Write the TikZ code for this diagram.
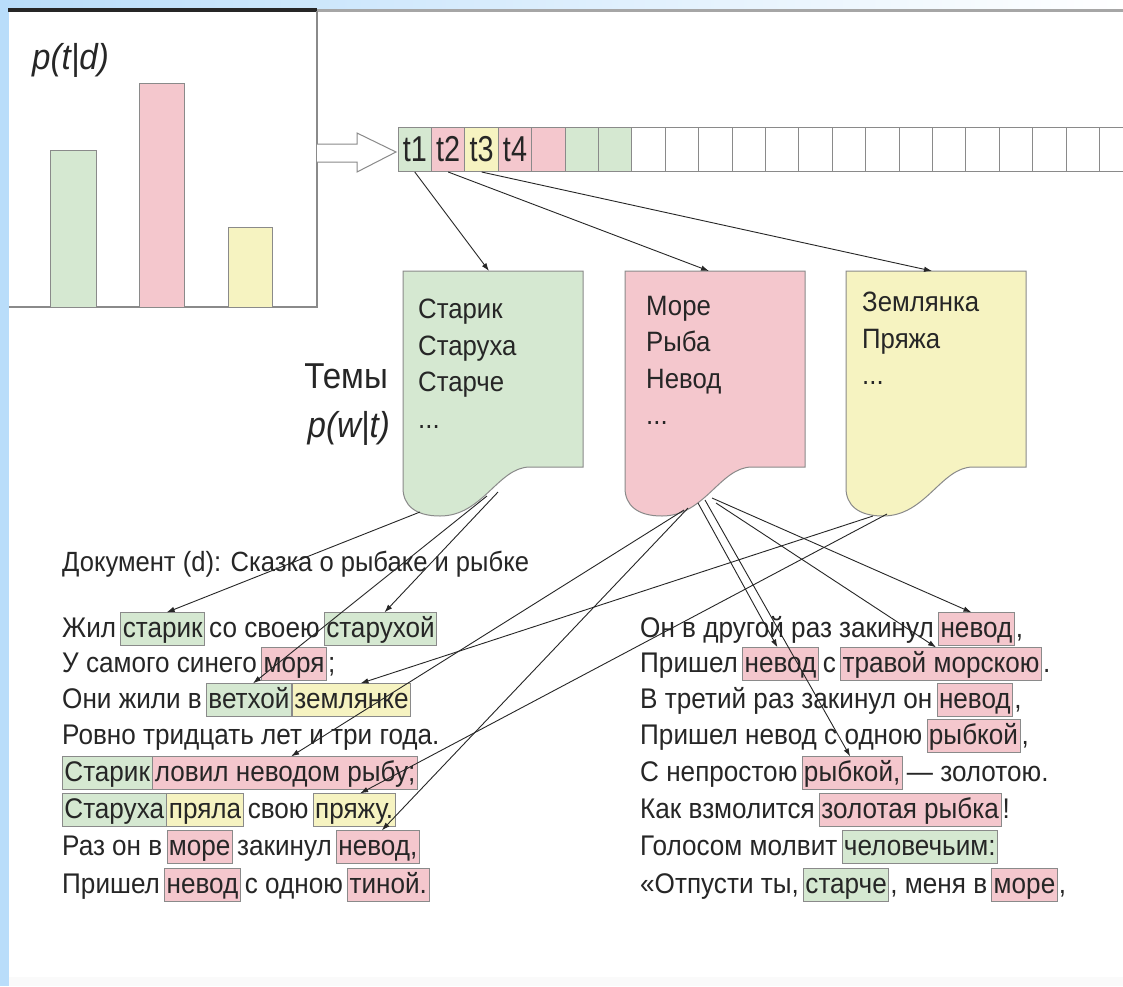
\documentclass[tikz,border=0pt]{standalone}
\usepackage{fontspec}
\setmainfont[FakeStretch=0.92]{Liberation Sans}
\newfontfamily\cellfont[FakeStretch=0.8]{Liberation Sans}
\usetikzlibrary{positioning,arrows.meta}

\definecolor{tgreen}{HTML}{D5E8D1}
\definecolor{tpink}{HTML}{F4C7CD}
\definecolor{tyellow}{HTML}{F6F3C1}
\definecolor{slideblue}{HTML}{B9DDFA}
\definecolor{edgegray}{HTML}{8A8A8A}
\definecolor{ink}{HTML}{262626}

\newcommand{\docsize}{\fontsize{28.4}{33}\selectfont}
\newcommand{\topicsize}{\fontsize{28}{36.5}\selectfont}

\tikzset{
  cell/.style={draw=edgegray, line width=1pt, minimum width=33.4pt, minimum height=44pt,
    inner sep=0pt, anchor=north west, font=\cellfont\fontsize{36}{36}\selectfont, text=ink},
  bar/.style={draw=edgegray, line width=1pt},
  topic/.style={fill=#1, draw=edgegray, line width=1pt},
  topicword/.style={inner sep=0pt, anchor=north west, align=left, font=\topicsize, text=ink},
  word/.style={inner sep=0pt, font=\docsize, text=ink},
  hl/.style={word, fill=#1, draw=edgegray, line width=0.8pt, inner xsep=2pt, inner ysep=1.25pt,
    text height=23pt, text depth=7.5pt},
  conn/.style={draw=ink, line width=0.9pt, -{Latex[length=8pt,width=5.5pt]}},
}

\begin{document}
\begin{tikzpicture}[x=1pt,y=-1pt]
  \useasboundingbox (0,0) rectangle (1123,986);
  \clip (0,0) rectangle (1123,986);

  % slide frame
  \fill[white] (0,0) rectangle (1123,986);
  \fill[black!2] (0,977) rectangle (1123,986);
  \shade[left color=slideblue, right color=white] (0,0) rectangle (1123,8);
  \fill[slideblue] (0,0) rectangle (9,986);
  \draw[ink, line width=3.5pt] (8,10) -- (317,10);
  \draw[gray!70, line width=3pt] (317,10) -- (1123,10);

  % p(t|d) chart
  \draw[edgegray, line width=1.2pt] (317,11) -- (317,307) -- (9,307);
  \node[font=\fontsize{36}{36}\selectfont\itshape, text=ink, anchor=west, inner sep=0pt] (ptd) at (32,60) {p(t|d)};
  \filldraw[bar, fill=tgreen] (50,150) rectangle (96,307);
  \filldraw[bar, fill=tpink] (139,83) rectangle (184,307);
  \filldraw[bar, fill=tyellow] (228,227) rectangle (272,307);

  \filldraw[fill=white, draw=edgegray, line width=1pt] (317,144) -- (357,144) -- (357,133)
    -- (396,152) -- (357,172) -- (357,162) -- (317,162);

  % topic cells
  \foreach \i/\col in {1/tgreen, 2/tpink, 3/tyellow, 4/tpink}
    \node[cell, fill=\col] (c\i) at ({397.6+(\i-1)*33.4},127) {t\i};
  \foreach \i/\col in {5/tpink, 6/tgreen, 7/tgreen}
    \node[cell, fill=\col] (c\i) at ({397.6+(\i-1)*33.4},127) {};
  \foreach \i in {8,...,22}
    \node[cell, fill=white] (c\i) at ({397.6+(\i-1)*33.4},127) {};

  % topics
  \foreach \L/\col in {403/tgreen, 625/tpink, 846/tyellow}
    \filldraw[topic=\col] (\L,271) -- (\L+180,271) -- (\L+180,467) -- (\L+127,467)
      .. controls (\L+95,467) and (\L+80,516) .. (\L+37,516)
      .. controls (\L+12,516) and (\L,505) .. (\L,488) -- cycle;

  \node[topicword] (tw-green) at (418,299) {Старик\\Старуха\\Старче\\...};
  \node[topicword] (tw-pink) at (646,296) {Море\\Рыба\\Невод\\...};
  \node[topicword] (tw-yellow) at (862,292) {Землянка\\Пряжа\\...};

  \node[font=\fontsize{36}{36}\selectfont, text=ink, anchor=base east, inner sep=0pt] (temy) at (388,388) {Темы};
  \node[font=\fontsize{36}{36}\selectfont\itshape, text=ink, anchor=base east, inner sep=0pt] (pwt) at (390,437) {p(w|t)};

  \coordinate (in-green) at (489,271);
  \coordinate (in-pink) at (709,271);
  \coordinate (in-yellow) at (932,271);
  \draw[conn] (c1.south) -- (in-green);
  \draw[conn] (c2.south) -- (in-pink);
  \draw[conn] (c3.south) -- (in-yellow);

  % document, left column
  \node[word, font=\fontsize{27.8}{33}\selectfont, anchor=base west] (title) at (62,571) {Документ (d): Сказка о рыбаке и рыбке};

  \node[word, anchor=base west] (a1) at (62,637) {Жил};
  \node[hl=tgreen, base right=4pt of a1] (starik) {старик};
  \node[word, base right=4pt of starik] (a1b) {со своею};
  \node[hl=tgreen, base right=4pt of a1b] (staruhoj) {старухой};

  \node[word, anchor=base west] (a2) at (62,672) {У самого синего};
  \node[hl=tpink, base right=4pt of a2] (morja) {моря};
  \node[word, base right=1pt of morja] (a2b) {;};

  \node[word, anchor=base west] (a3) at (62,708) {Они жили в};
  \node[hl=tgreen, base right=4pt of a3] (vethoj) {ветхой};
  \node[hl=tyellow, base right=0pt of vethoj] (zemljanke) {землянке};

  \node[word, anchor=base west] (a4) at (62,744) {Ровно тридцать лет и три года.};

  \node[hl=tgreen, anchor=base west] (starik2) at (62,781) {Старик};
  \node[hl=tpink, base right=0pt of starik2] (lovil) {ловил неводом рыбу;};

  \node[hl=tgreen, anchor=base west] (staruha) at (62,818) {Старуха};
  \node[hl=tyellow, base right=0pt of staruha] (prjala) {пряла};
  \node[word, base right=4pt of prjala] (a6) {свою};
  \node[hl=tyellow, base right=4pt of a6] (prjazhu) {пряжу.};

  \node[word, anchor=base west] (a7) at (62,855) {Раз он в};
  \node[hl=tpink, base right=4pt of a7] (more) {море};
  \node[word, base right=4pt of more] (a7b) {закинул};
  \node[hl=tpink, base right=4pt of a7b] (nevod7) {невод,};

  \node[word, anchor=base west] (a8) at (62,893) {Пришел};
  \node[hl=tpink, base right=4pt of a8] (nevod8) {невод};
  \node[word, base right=4pt of nevod8] (a8b) {с одною};
  \node[hl=tpink, base right=4pt of a8b] (tinoj) {тиной.};

  % document, right column
  \node[word, anchor=base west] (b1) at (640,637) {Он в другой раз закинул};
  \node[hl=tpink, base right=4pt of b1] (nevodR1) {невод};
  \node[word, base right=1pt of nevodR1] (b1b) {,};

  \node[word, anchor=base west] (b2) at (640,672) {Пришел};
  \node[hl=tpink, base right=4pt of b2] (nevodR2) {невод};
  \node[word, base right=4pt of nevodR2] (b2b) {с};
  \node[hl=tpink, base right=4pt of b2b] (travoj) {травой морскою};
  \node[word, base right=1pt of travoj] (b2c) {.};

  \node[word, anchor=base west] (b3) at (640,708) {В третий раз закинул он};
  \node[hl=tpink, base right=4pt of b3] (nevodR3) {невод};
  \node[word, base right=1pt of nevodR3] (b3b) {,};

  \node[word, anchor=base west] (b4) at (640,744) {Пришел невод с одною};
  \node[hl=tpink, base right=4pt of b4] (rybkoj4) {рыбкой};
  \node[word, base right=1pt of rybkoj4] (b4b) {,};

  \node[word, anchor=base west] (b5) at (640,781) {С непростою};
  \node[hl=tpink, base right=4pt of b5] (rybkoj5) {рыбкой,};
  \node[word, base right=4pt of rybkoj5] (b5b) {— золотою.};

  \node[word, anchor=base west] (b6) at (640,818) {Как взмолится};
  \node[hl=tpink, base right=4pt of b6] (zolotaja) {золотая рыбка};
  \node[word, base right=1pt of zolotaja] (b6b) {!};

  \node[word, anchor=base west] (b7) at (640,855) {Голосом молвит};
  \node[hl=tgreen, base right=4pt of b7] (chelovechjim) {человечьим:};

  \node[word, anchor=base west] (b8) at (640,893) {«Отпусти ты,};
  \node[hl=tgreen, base right=4pt of b8] (starche) {старче};
  \node[word, base right=1pt of starche] (b8b) {, меня в};
  \node[hl=tpink, base right=4pt of b8b] (moreR) {море};
  \node[word, base right=1pt of moreR] (b8c) {,};

  % topic -> word links
  \coordinate (g-out1) at (420,512);
  \coordinate (g-out2) at (498,492);
  \coordinate (g-out3) at (487,496);
  \coordinate (p-out1) at (684,510);
  \coordinate (p-out2) at (688,508);
  \coordinate (p-out3) at (698,503);
  \coordinate (p-out4) at (705,500);
  \coordinate (p-out5) at (712,498);
  \coordinate (p-out6) at (716,503);
  \coordinate (y-out1) at (873,516);
  \coordinate (y-out2) at (887,514);

  \draw[conn] (g-out1) -- ([xshift=4pt]starik.north);
  \draw[conn] (g-out2) -- ([xshift=4pt]staruhoj.north);
  \draw[conn] (g-out3) -- ([xshift=4pt]vethoj.north);
  \draw[conn] (y-out1) -- ([xshift=9pt]zemljanke.north);
  \draw[conn] (p-out1) -- ([xshift=6pt]lovil.north);
  \draw[conn] (y-out2) -- ([xshift=6pt]prjazhu.north);
  \draw[conn] (p-out2) -- ([xshift=4pt]nevod7.north);
  \draw[conn] (p-out5) -- ([xshift=-5pt]nevodR1.north);
  \draw[conn] (p-out3) -- ([xshift=-3pt]nevodR2.north);
  \draw[conn] (p-out6) -- ([xshift=-5pt]travoj.north);
  \draw[conn] (p-out4) -- ([xshift=-2pt]rybkoj5.north);
\end{tikzpicture}
\end{document}
